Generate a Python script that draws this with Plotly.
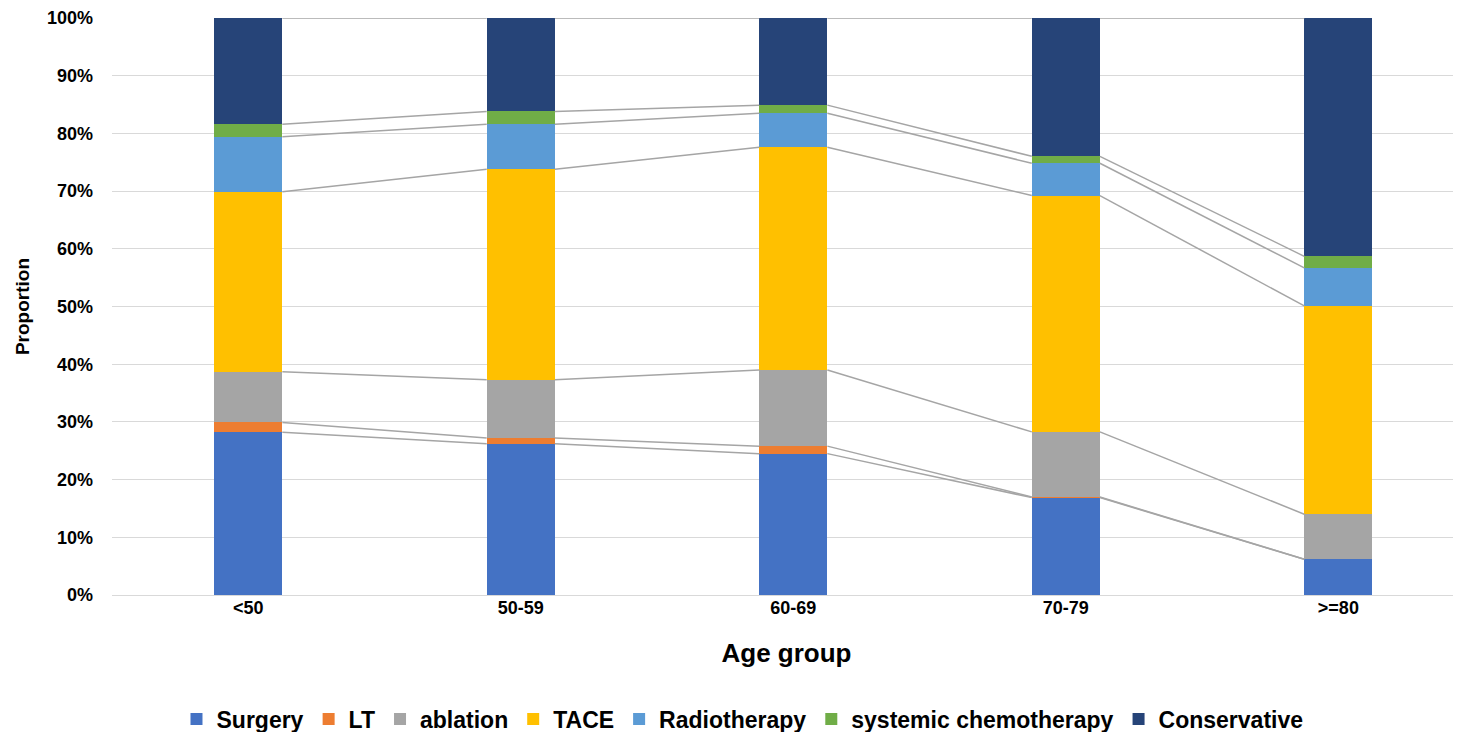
import plotly.graph_objects as go

categories = ["<50", "50-59", "60-69", "70-79", ">=80"]
surgery = [28.2, 26.2, 24.5, 16.9, 6.2]
lt = [1.7, 1.0, 1.3, 0.1, 0.0]
ablation = [8.8, 10.1, 13.2, 11.3, 7.8]
tace = [31.2, 36.5, 38.6, 41.0, 36.1]
radiotherapy = [9.5, 7.8, 5.9, 5.6, 6.6]
chemo = [2.2, 2.2, 1.4, 1.2, 2.0]
conservative = [18.4, 16.2, 15.1, 24.0, 41.3]

series_names = ["Surgery", "LT", "ablation", "TACE", "Radiotherapy",
                "systemic chemotherapy", "Conservative"]
series_values = [surgery, lt, ablation, tace, radiotherapy, chemo, conservative]
colors = ["#4472C4", "#ED7D31", "#A5A5A5", "#FFC000", "#5B9BD5", "#70AD47", "#264478"]

BAR_W = 0.25
FONT = "Liberation Sans, Arial, sans-serif"

fig = go.Figure()
xs = list(range(len(categories)))

totals = [sum(s[i] for s in series_values) for i in xs]
props = [[s[i] / totals[i] for i in xs] for s in series_values]

# series lines connecting the tops of each segment
cum = [0.0] * len(xs)
for vals in props:
    cum = [cum[i] + vals[i] for i in xs]
    lx, ly = [], []
    for i in range(len(xs) - 1):
        lx += [xs[i] + BAR_W / 2, xs[i + 1] - BAR_W / 2, None]
        ly += [cum[i], cum[i + 1], None]
    fig.add_trace(go.Scatter(x=lx, y=ly, mode="lines",
                             line=dict(color="#A5A5A5", width=1.5),
                             showlegend=False, hoverinfo="skip"))

for name, vals, col in zip(series_names, props, colors):
    fig.add_trace(go.Bar(x=xs, y=vals, name=name, marker_color=col,
                         marker_line_width=0, width=BAR_W))

fig.update_layout(
    barmode="stack",
    width=1453, height=724,
    margin=dict(l=104, r=0, t=10, b=137, autoexpand=False),
    plot_bgcolor="white", paper_bgcolor="white",
    font=dict(family=FONT, color="black"),
    legend=dict(orientation="h", xref="container", x=0.5055, xanchor="center",
                yref="container", y=13 / 724, yanchor="middle",
                font=dict(family=FONT, size=23, weight="bold"),
                itemsizing="constant", traceorder="normal"),
    showlegend=True,
)
fig.update_xaxes(
    range=[-0.5, 4.45], tickvals=xs, ticktext=categories, automargin=False,
    tickfont=dict(family=FONT, size=18, weight="bold"),
    showgrid=False, zeroline=False, showline=False, ticks="",
    title=dict(text="Age group", font=dict(family=FONT, size=26, weight="bold"),
               standoff=26),
)
fig.update_yaxes(
    range=[0, 1], tickvals=[i / 10 for i in range(11)], tickformat=".0%",
    automargin=False,
    tickfont=dict(family=FONT, size=18, weight="bold"),
    showgrid=True, gridcolor="#D9D9D9", gridwidth=1.3,
    zeroline=True, zerolinecolor="#D9D9D9", zerolinewidth=1.3,
    ticks="", ticklabelstandoff=18,
    title=dict(text="Proportion", font=dict(family=FONT, size=19, weight="bold"),
               standoff=12),
)

fig.write_html("out.html")
